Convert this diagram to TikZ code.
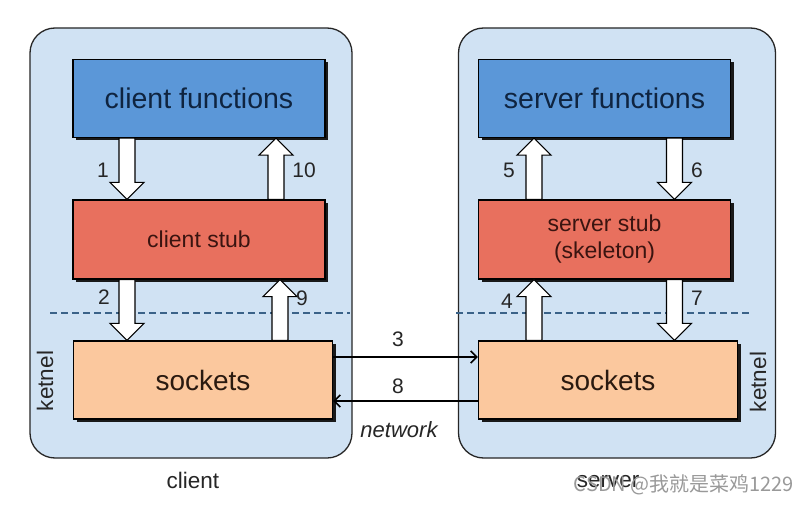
\documentclass[tikz,border=0pt]{standalone}
\usepackage{fontspec}
\setmainfont{Liberation Sans}
\newfontfamily\cjkfont{Noto Sans CJK SC}
\usetikzlibrary{calc,shadows,arrows.meta}

\definecolor{panelfill}{HTML}{D0E2F3}
\definecolor{fnblue}{HTML}{5B97D8}
\definecolor{fntext}{HTML}{0F2440}
\definecolor{stubred}{HTML}{E8705E}
\definecolor{stubtext}{HTML}{3A1410}
\definecolor{sockpeach}{HTML}{FBC89E}
\definecolor{socktext}{HTML}{2A1A10}
\definecolor{dashblue}{HTML}{3A6288}

\tikzset{
  panelbox/.style={draw=black!85, line width=1.3pt, fill=panelfill, rounded corners=25pt, inner sep=0pt},
  box/.style={draw=black, line width=1.3pt, inner sep=0pt, align=center,
    general shadow={fill=black!90, shadow xshift=3pt, shadow yshift=-3pt}},
  fnbox/.style={box, fill=fnblue, text=fntext, font=\fontsize{28.5}{30}\selectfont, minimum width=252pt, minimum height=78pt},
  stubbox/.style={box, fill=stubred, text=stubtext, font=\fontsize{23}{27}\selectfont, minimum width=252pt, minimum height=79pt},
  sockbox/.style={box, fill=sockpeach, text=socktext, font=\fontsize{28}{30}\selectfont, minimum width=259pt, minimum height=78pt},
  barrow/.style={draw=black, fill=white, line width=1.1pt, line join=miter},
  netarrow/.style={draw=black, line width=1.6pt, -{Straight Barb[length=6pt,width=12pt,line width=1.6pt]}},
  numlabel/.style={font=\fontsize{21}{22}\selectfont, text=black!85, inner sep=0pt},
  biglabel/.style={font=\fontsize{22.5}{24}\selectfont, text=black!85, inner sep=0pt},
  kerdash/.style={draw=dashblue, line width=1.4pt, dash pattern=on 7pt off 4pt},
}

\newcommand\blockarr[2]{%
  \path (#2) coordinate (bt) ($(#2)!17pt!(#1)$) coordinate (bb);
  \draw[barrow] ($(#1)!8pt!90:(bt)$) -- ($(bb)!8pt!90:(bt)$) -- ($(bb)!17pt!90:(bt)$) -- (bt)
    -- ($(bb)!17pt!-90:(bt)$) -- ($(bb)!8pt!-90:(bt)$) -- ($(#1)!8pt!-90:(bt)$) -- cycle;}

\begin{document}
\begin{tikzpicture}[x=1pt,y=-1pt]
\useasboundingbox[fill=white] (0,0) rectangle (808,505);

% panels
\node[panelbox, minimum width=322pt, minimum height=430pt] (cpanel) at (191,243) {};
\node[panelbox, minimum width=317pt, minimum height=430pt] (spanel) at (617,243) {};

% dashed kernel lines
\draw[kerdash] (50,313) -- (350,313);
\draw[kerdash] (456,313) -- (752,313);

% client boxes
\node[fnbox] (cf) at (199,98.5) {client functions};
\node[stubbox] (cs) at (199,239.5) {client stub};
\node[sockbox] (ck) at (203,380) {sockets};

% server boxes
\node[fnbox] (sf) at (604.5,98.5) {server functions};
\node[stubbox] (ss) at (604.5,239.5) {server stub\\(skeleton)};
\node[sockbox] (sk) at (608,380) {sockets};

% block arrow end points
\coordinate (a1s) at ([xshift=-72pt]cf.south);
\coordinate (a1t) at (a1s |- cs.north);
\coordinate (a10s) at ([xshift=77pt]cs.north);
\coordinate (a10t) at (a10s |- cf.south);
\coordinate (a2s) at ([xshift=-72pt]cs.south);
\coordinate (a2t) at (a2s |- ck.north);
\coordinate (a9s) at ([xshift=77pt]ck.north);
\coordinate (a9t) at (a9s |- cs.south);
\coordinate (a5s) at ([xshift=-70.5pt]ss.north);
\coordinate (a5t) at (a5s |- sf.south);
\coordinate (a6s) at ([xshift=70pt]sf.south);
\coordinate (a6t) at (a6s |- ss.north);
\coordinate (a4s) at ([xshift=-74pt]sk.north);
\coordinate (a4t) at (a4s |- ss.south);
\coordinate (a7s) at ([xshift=70pt]ss.south);
\coordinate (a7t) at (a7s |- sk.north);

\blockarr{a1s}{a1t}
\blockarr{a10s}{a10t}
\blockarr{a2s}{a2t}
\blockarr{a9s}{a9t}
\blockarr{a5s}{a5t}
\blockarr{a6s}{a6t}
\blockarr{a4s}{a4t}
\blockarr{a7s}{a7t}

% numbers
\node[numlabel] (n1) at (103,170) {1};
\node[numlabel] (n10) at (304,170) {10};
\node[numlabel] (n2) at (104,297) {2};
\node[numlabel] (n9) at (302,298) {9};
\node[numlabel] (n5) at (509,170) {5};
\node[numlabel] (n6) at (697,170) {6};
\node[numlabel] (n4) at (507,301) {4};
\node[numlabel] (n7) at (697,298) {7};

% network arrows
\coordinate (n3a) at ([yshift=23pt]ck.east);
\coordinate (n3b) at (n3a -| sk.west);
\coordinate (n8a) at ([yshift=-21pt]sk.west);
\coordinate (n8b) at (n8a -| ck.east);
\draw[netarrow] (n3a) -- (n3b);
\draw[netarrow] (n8a) -- (n8b);
\node[numlabel] (n3) at (398,339) {3};
\node[numlabel] (n8) at (398,386) {8};
\node[biglabel, font=\itshape\fontsize{22}{24}\selectfont] (net) at (399,430) {network};

% kernel labels
\node[biglabel, rotate=90] (kc) at (45,381) {ketnel};
\node[biglabel, rotate=90] (ks) at (758,382) {ketnel};

% captions
\node[biglabel] (capc) at (193,480) {client};
\node[biglabel] (caps) at (608,482) {server};
\node[font=\cjkfont\fontsize{20}{22}\selectfont, text=black!40, inner sep=0pt] (wm) at (684,485) {CSDN @我就是菜鸡1229};
\end{tikzpicture}
\end{document}
